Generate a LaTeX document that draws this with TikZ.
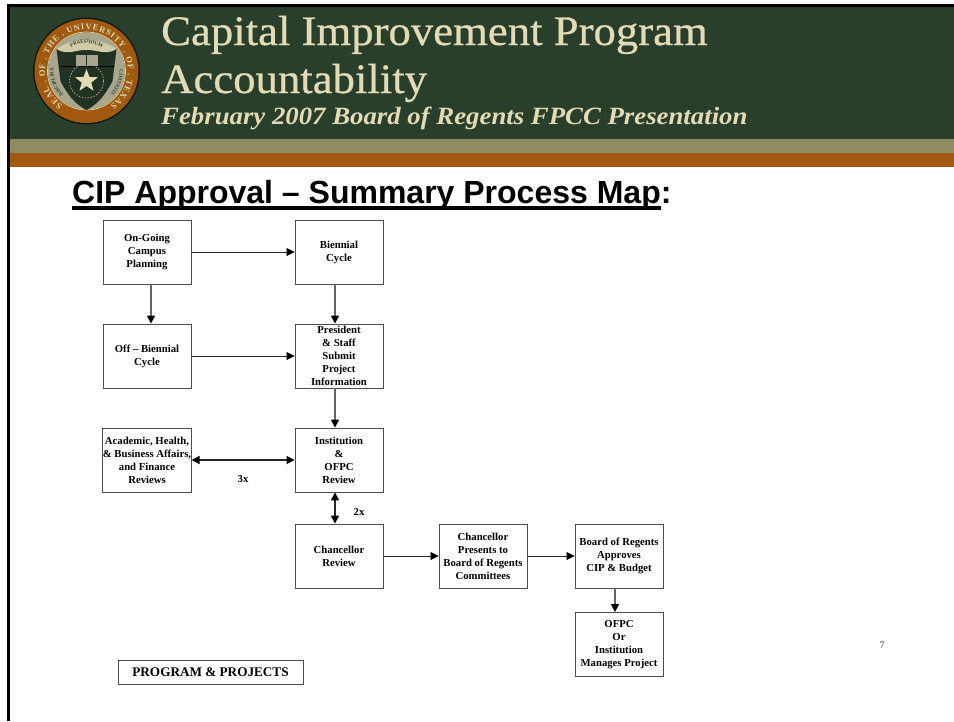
\documentclass[tikz,border=0pt]{standalone}
\usepackage{fontspec}
\setmainfont{Liberation Serif}
\setsansfont{Liberation Sans}
\newfontfamily\titlefont[FakeBold=0.6,FakeStretch=1.065]{Liberation Serif}
\newfontfamily\subtitlefont[FakeStretch=1.08]{Liberation Serif}
\usepackage[HTML]{xcolor}
\usetikzlibrary{arrows.meta, calc, decorations.text, shapes.geometric}
\definecolor{headgreen}{HTML}{2A3F2B}
\definecolor{headcream}{HTML}{E2DBB5}
\definecolor{headolive}{HTML}{8F8C62}
\definecolor{headbrown}{HTML}{A0590F}
\definecolor{sealgrey}{HTML}{A8A68C}
\tikzset{
  mapbox/.style={draw=black!70, line width=0.9pt, fill=white, minimum width=88pt, minimum height=64pt,
    inner sep=0pt, align=center, font=\fontsize{10.7}{13}\selectfont\bfseries},
  thinarrow/.style={draw=black!85, line width=0.8pt, -{Triangle[length=8pt,width=8pt,black]}},
  thickarrow/.style={draw=black!60, line width=1.6pt, -{Triangle[length=8pt,width=8pt,black]}},
  bothwayarrow/.style={draw=black!85, line width=1.6pt, {Triangle[length=8pt,width=8pt,black]}-{Triangle[length=8pt,width=8pt,black]}},
  tagtext/.style={font=\fontsize{10.7}{13}\selectfont\bfseries, inner sep=0pt},
  titletext/.style={text=headcream, anchor=base west, inner sep=0pt}
}
\begin{document}
\begin{tikzpicture}[x=1pt,y=-1pt]
\useasboundingbox (0,0) rectangle (954,721);
% header
\fill[headgreen] (9,7) rectangle (954,139);
\fill[headolive] (9,139) rectangle (954,153);
\fill[headbrown] (9,153) rectangle (954,167);
\fill[black] (7,4) rectangle (954,7);
\fill[black] (7,4) rectangle (9.5,721);
\node[titletext, font=\titlefont\fontsize{42}{42}\selectfont] (titleone) at (161,45) {Capital Improvement Program};
\node[titletext, font=\titlefont\fontsize{42}{42}\selectfont] (titletwo) at (161,93) {Accountability};
\node[titletext, font=\subtitlefont\fontsize{24.8}{25}\selectfont\bfseries\itshape] (subtitle) at (161,124) {February 2007 Board of Regents FPCC Presentation};
% seal
\begin{scope}[shift={(86.5,71)}, x=1pt, y=1pt]
\fill[headgreen!40!black] (0,0) circle (53.5);
\fill[headbrown] (0,0) circle (52);
\draw[headcream, line width=0.7pt] (0,0) circle (39);
\fill[sealgrey] (0,0) circle (38.5);
\path[decorate, decoration={text along path, text align=fit to path, text={|\fontsize{8.5}{8.5}\selectfont\bfseries\color{headcream}|SEAL . OF . THE . UNIVERSITY . OF . TEXAS}}]
  (235:41.5) arc[start angle=235, end angle=-55, radius=41.5];
\fill[headgreen!80!black] (-30,22) .. controls (-14,26) and (14,26) .. (30,22) -- (26,-10) .. controls (20,-22) and (12,-33) .. (0,-39) .. controls (-12,-33) and (-20,-22) .. (-26,-10) -- cycle;
\path[decorate, decoration={text along path, text align=center, text={|\fontsize{5}{5}\selectfont\bfseries\color{headgreen}|DISCIPLINA}}]
  (235:33) arc[start angle=235, end angle=165, radius=33];
\path[decorate, decoration={text along path, text align=center, text={|\fontsize{5}{5}\selectfont\bfseries\color{headgreen}|CIVITATIS}}]
  (15:33) arc[start angle=15, end angle=-55, radius=33];
\fill[headcream!70!sealgrey] (-30,22) .. controls (-14,34) and (14,34) .. (30,22) .. controls (20,15) and (8,22) .. (0,21) .. controls (-8,22) and (-20,15) .. (-30,22) -- cycle;
\path[decorate, decoration={text along path, text align=center, text={|\fontsize{5}{5}\selectfont\bfseries\color{headgreen}|PRAESIDIUM}}]
  (130:28) arc[start angle=130, end angle=50, radius=28];
\fill[sealgrey] (-11,5) rectangle (-0.5,16);
\fill[sealgrey] (0.5,5) rectangle (11,16);
\draw[black, line width=0.6pt] (-28,5) -- (28,5);
\draw[sealgrey, line width=0.8pt, dash pattern=on 1.5pt off 1.5pt] (0,-10) circle (17);
\node[star, star points=5, star point ratio=2.4, fill=headcream, minimum size=24pt, inner sep=0pt] (sealstar) at (0,-10) {};
\end{scope}
% heading
\node[anchor=base west, inner sep=0pt, font=\sffamily\fontsize{32}{32}\selectfont\bfseries] (heading) at (72,203) {CIP Approval – Summary Process Map:};
\fill[black] (72,206) rectangle (661,209.5);
% boxes
\node[mapbox] (OnGoing) at (147,252) {On-Going\\Campus\\Planning};
\node[mapbox] (Biennial) at (339,252) {Biennial\\Cycle};
\node[mapbox] (OffBiennial) at (147,356) {Off -- Biennial\\Cycle};
\node[mapbox] (President) at (339,356) {President\\\& Staff\\Submit\\Project\\Information};
\node[mapbox] (Academic) at (147,460) {Academic, Health,\\\& Business Affairs,\\and Finance\\Reviews};
\node[mapbox] (Institution) at (339,460) {Institution\\\&\\OFPC\\Review};
\node[mapbox] (ChancellorReview) at (339,556) {Chancellor\\Review};
\node[mapbox] (ChancellorPresents) at (483,556) {Chancellor\\Presents to\\Board of Regents\\Committees};
\node[mapbox] (Board) at (619,556) {Board of Regents\\Approves\\CIP \& Budget};
\node[mapbox] (Manages) at (619,644.5) {OFPC\\Or\\Institution\\Manages Project};
\node[mapbox, minimum width=185pt, minimum height=24pt, font=\fontsize{13.2}{14}\selectfont\bfseries] (Program) at (210.5,672) {PROGRAM \& PROJECTS};
% connectors
\draw[thinarrow] (OnGoing) -- (Biennial);
\draw[thinarrow] (OffBiennial) -- (President);
\draw[thinarrow] (ChancellorReview) -- (ChancellorPresents);
\draw[thinarrow] (ChancellorPresents) -- (Board);
\draw[thickarrow] ([xshift=4pt]OnGoing.south) -- ([xshift=4pt]OffBiennial.north);
\draw[thickarrow] ([xshift=-4pt]Biennial.south) -- ([xshift=-4pt]President.north);
\draw[thickarrow] ([xshift=-4pt]President.south) -- ([xshift=-4pt]Institution.north);
\draw[thickarrow] ([xshift=-4pt]Board.south) -- ([xshift=-4pt]Manages.north);
\draw[bothwayarrow] (Academic) -- (Institution);
\draw[bothwayarrow] ([xshift=-4pt]Institution.south) -- ([xshift=-4pt]ChancellorReview.north);
% labels
\node[tagtext] (threex) at (243,479) {3x};
\node[tagtext] (twox) at (359,511.5) {2x};
\node[font=\fontsize{10}{12}\selectfont, text=black!75, inner sep=0pt] (pagenum) at (882,645) {7};
\end{tikzpicture}
\end{document}
